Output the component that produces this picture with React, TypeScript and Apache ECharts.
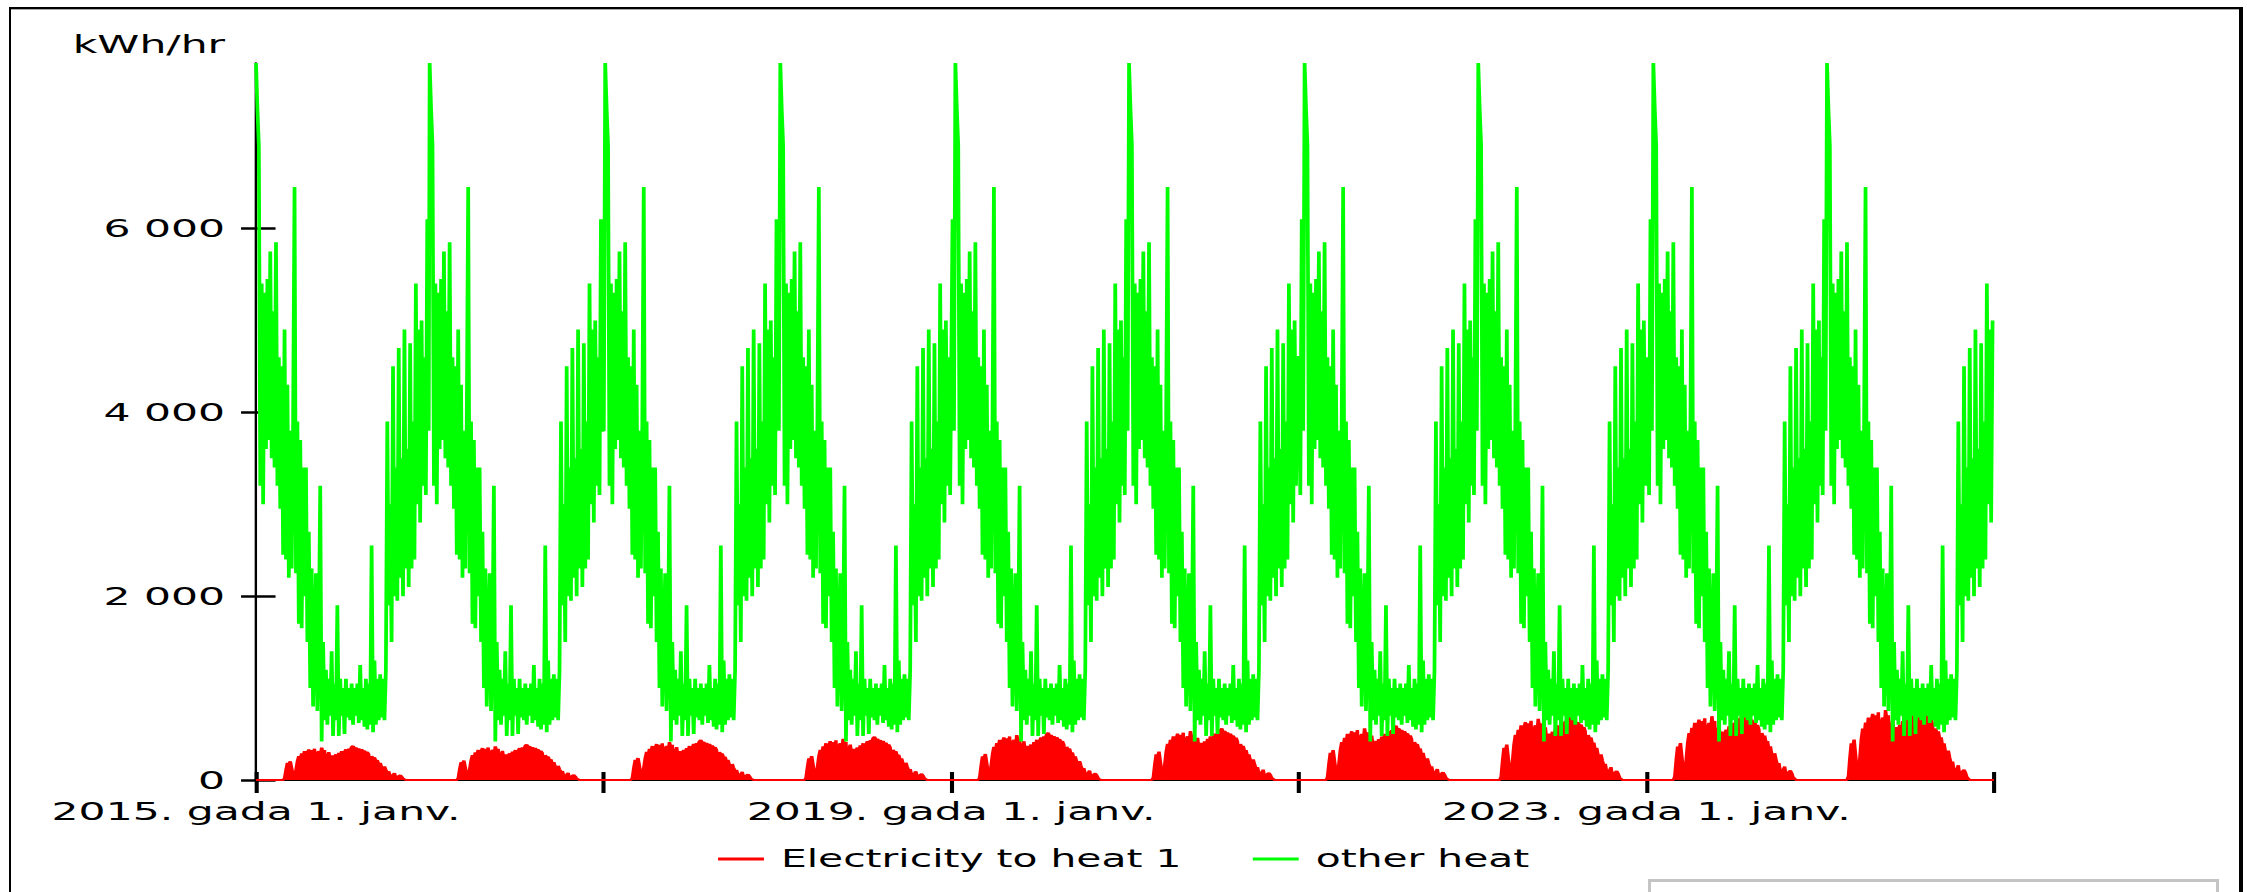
import React, { useEffect, useRef } from "react";
import * as echarts from "echarts";

// ---------- data ----------
const YEARS = [2015, 2016, 2017, 2018, 2019, 2020, 2021, 2022, 2023, 2024];
const STEP_DAYS = 3;

// "other heat": one year, one value every 3 days (day 0, 3, 6 ... 363), kWh/hr
const OTHER_HEAT_YEAR = [
  7800, 7300, 6900, 3200, 5400, 3000, 5300, 3600, 5450, 3700,
  5750, 3500, 5100, 3400, 5850, 3200, 4600, 2950, 4500, 2450,
  4900, 2400, 4300, 2200, 3800, 2300, 3900, 6450, 2250, 3900,
  1700, 3700, 1650, 3400, 2000, 3400, 1500, 2700, 1000, 2300,
  800, 1500, 2250, 750, 1500, 3200, 420, 1500, 650, 1200,
  600, 1100, 700, 1400, 480, 1050, 650, 1900, 480, 1100,
  700, 1000, 500, 1100, 680, 1000, 650, 1050, 600, 1000,
  700, 1050, 620, 1250, 650, 1000, 580, 1100, 550, 1050,
  600, 2550, 520, 1300, 600, 1100, 650, 1150, 680, 1100,
  650, 1200, 3900, 1900, 3000, 1500, 4500, 2000, 3400, 1950,
  4700, 2200, 3500, 2000, 4900, 2300, 3600, 2100, 4750, 2300,
  3900, 2400, 5400, 3000, 4900, 2800, 5000, 3200, 4600, 3100,
  6100, 3800,
];
// day on which each year's "other heat" pattern starts
const OTHER_HEAT_SHIFT_DAYS = [0, 0, 3, 6, 9, 9, 12, 12, 15, 15];

// "Electricity to heat 1": seasonal shape, % of the year's peak, same 3-day grid
const ELEC_SHAPE_PCT = [
  0, 0, 0, 0, 0, 0, 0, 0, 0, 0,
  0, 0, 0, 0, 0, 0, 0, 0, 0, 0,
  5, 30, 50, 45, 55, 35, 15, 5, 30, 55,
  70, 60, 78, 68, 85, 62, 80, 90, 55, 88,
  72, 92, 10, 78, 85, 68, 95, 80, 88, 0,
  70, 82, 60, 72, 58, 68, 75, 62, 80, 70,
  85, 5, 82, 90, 78, 92, 88, 97, 100, 93,
  95, 90, 92, 87, 90, 84, 86, 80, 82, 75,
  5, 70, 64, 66, 55, 58, 45, 50, 38, 0,
  40, 30, 22, 25, 12, 8, 15, 20, 6, 4,
  12, 14, 10, 4, 2, 0, 0, 0, 0, 0,
  0, 0, 0, 0, 0, 0, 0, 0, 0, 0,
  0, 0,
];
// peak of "Electricity to heat 1" in each year, kWh/hr
const ELEC_PEAK_BY_YEAR = [370, 385, 435, 470, 515, 560, 590, 700, 730, 800];

const Y_TICKS = [0, 2000, 4000, 6000];
const Y_MAX = 7800;
const X_TICK_YEARS = [2015, 2017, 2019, 2021, 2023, 2025];
const X_LABEL_YEARS = [2015, 2019, 2023];
const SERIES_NAMES = ["Electricity to heat 1", "other heat"];
const UNIT = "kWh/hr";

// ---------- layout ----------
const S = 1.7; // horizontal stretch of the whole picture
const PAGE_W = 2247;
const PAGE_H = 892;
const CW = PAGE_W / S;
const FONT = "DejaVu Sans";
const DAY = 86400000;

function buildData() {
  const green: [number, number][] = [];
  const red: [number, number][] = [];
  const n = OTHER_HEAT_YEAR.length;
  YEARS.forEach((yr, yi) => {
    const start = Date.UTC(yr, 0, 1);
    const len = (Date.UTC(yr + 1, 0, 1) - start) / DAY;
    const shift = OTHER_HEAT_SHIFT_DAYS[yi] / STEP_DAYS;
    for (let i = 0; i * STEP_DAYS < len && i < n; i++) {
      const ts = start + i * STEP_DAYS * DAY;
      green.push([ts, OTHER_HEAT_YEAR[(i - shift + n) % n]]);
      red.push([ts, Math.round((ELEC_SHAPE_PCT[i] * ELEC_PEAK_BY_YEAR[yi]) / 100)]);
    }
  });
  red.push([Date.UTC(2025, 0, 1), 0]);
  return { green, red };
}

function fmtY(v: number) {
  if (v === 0) return "0";
  const th = Math.floor(v / 1000);
  const rest = String(v % 1000).padStart(3, "0");
  return `${th} ${rest}`;
}

export default function App() {
  const ref = useRef<HTMLDivElement>(null);
  useEffect(() => {
    if (!ref.current) return;
    const chart = echarts.init(ref.current, undefined, { renderer: "svg" });
    const { green, red } = buildData();
    const xMin = Date.UTC(2015, 0, 1);
    const xMax = Date.UTC(2025, 0, 1);
    const tickTs = X_TICK_YEARS.map((y) => Date.UTC(y, 0, 1));
    const labelTs = X_LABEL_YEARS.map((y) => Date.UTC(y, 0, 1));
    const gridLeft = 256 / S;
    const gridWidth = (1994 - 256) / S;
    const text = { fontFamily: FONT, fontSize: 25, color: "#000" };
    const tickStyleX = { color: "#000", width: 2.4 };
    const tickStyleY = { color: "#000", width: 2.5 };
    chart.setOption({
      animation: false,
      backgroundColor: "transparent",
      grid: {
        left: gridLeft,
        top: 63,
        width: gridWidth,
        height: 717,
        containLabel: false,
        outerBoundsMode: "none",
      },
      legend: {
        data: SERIES_NAMES,
        left: "center",
        top: 847,
        padding: 0,
        icon: "rect",
        itemWidth: 27,
        itemHeight: 3,
        itemGap: 42,
        textStyle: { ...text, fontSize: 24, padding: [0, 0, 0, 5] },
      },
      xAxis: [
        {
          type: "value",
          min: xMin,
          max: xMax,
          position: "bottom",
          axisLine: { show: true, onZero: false, lineStyle: { color: "#000", width: 2 } },
          axisTick: { show: true, inside: false, length: 13, lineStyle: tickStyleX, customValues: tickTs },
          axisLabel: {
            ...text,
            margin: 19,
            customValues: labelTs,
            formatter: (v: number) => `${new Date(v).getUTCFullYear()}. gada 1. janv.`,
          },
          splitLine: { show: false },
        },
        {
          type: "value",
          min: xMin,
          max: xMax,
          position: "bottom",
          axisLine: { show: false, onZero: false },
          axisTick: { show: true, inside: true, length: 8, lineStyle: tickStyleX, customValues: tickTs },
          axisLabel: { show: false },
          splitLine: { show: false },
        },
      ],
      yAxis: [
        {
          type: "value",
          min: 0,
          max: Y_MAX,
          position: "left",
          axisLine: { show: true, onZero: false, lineStyle: { color: "#000", width: 1.4 } },
          axisTick: { show: true, inside: false, length: 8.8, lineStyle: tickStyleY, customValues: Y_TICKS },
          axisLabel: { ...text, margin: 18.2, customValues: Y_TICKS, formatter: fmtY },
          splitLine: { show: false },
        },
        {
          type: "value",
          min: 0,
          max: Y_MAX,
          position: "left",
          axisLine: { show: false, onZero: false },
          axisTick: { show: true, inside: true, length: 11.5, lineStyle: tickStyleY, customValues: Y_TICKS },
          axisLabel: { show: false },
          splitLine: { show: false },
        },
      ],
      graphic: [
        {
          type: "text",
          x: 42.8,
          y: 44.6,
          style: { text: UNIT, font: `25px "${FONT}"`, fill: "#000", verticalAlign: "middle", align: "left" },
        },
      ],
      series: [
        {
          name: SERIES_NAMES[0],
          type: "line",
          xAxisIndex: 0,
          yAxisIndex: 0,
          data: red,
          symbol: "none",
          showSymbol: false,
          lineStyle: { color: "#ff0000", width: 2 },
          itemStyle: { color: "#ff0000" },
          areaStyle: { color: "#ff0000", opacity: 1 },
          z: 2,
        },
        {
          name: SERIES_NAMES[1],
          type: "line",
          xAxisIndex: 0,
          yAxisIndex: 0,
          data: green,
          symbol: "none",
          showSymbol: false,
          lineStyle: { color: "#00ff00", width: 2.2 },
          itemStyle: { color: "#00ff00" },
          z: 3,
        },
      ],
    });
    return () => chart.dispose();
  }, []);

  return (
    <div style={{ position: "fixed", left: 0, top: 0, width: PAGE_W, height: PAGE_H, overflow: "hidden", background: "#fff" }}>
      <div
        ref={ref}
        style={{ position: "absolute", left: 0, top: 0, width: CW, height: PAGE_H, transform: `scaleX(${S})`, transformOrigin: "0 0" }}
      />
      <div
        style={{
          position: "absolute",
          left: 9,
          top: 7,
          width: 2234,
          height: 920,
          boxSizing: "border-box",
          borderTop: "2px solid #000",
          borderLeft: "2px solid #000",
          borderRight: "4px solid #000",
          boxShadow: "inset 0 1px 0 #aaa",
          pointerEvents: "none",
        }}
      />
      <div
        style={{
          position: "absolute",
          left: 1648,
          top: 879,
          width: 571,
          height: 60,
          boxSizing: "border-box",
          border: "3px solid #c4c4c4",
        }}
      />
    </div>
  );
}
